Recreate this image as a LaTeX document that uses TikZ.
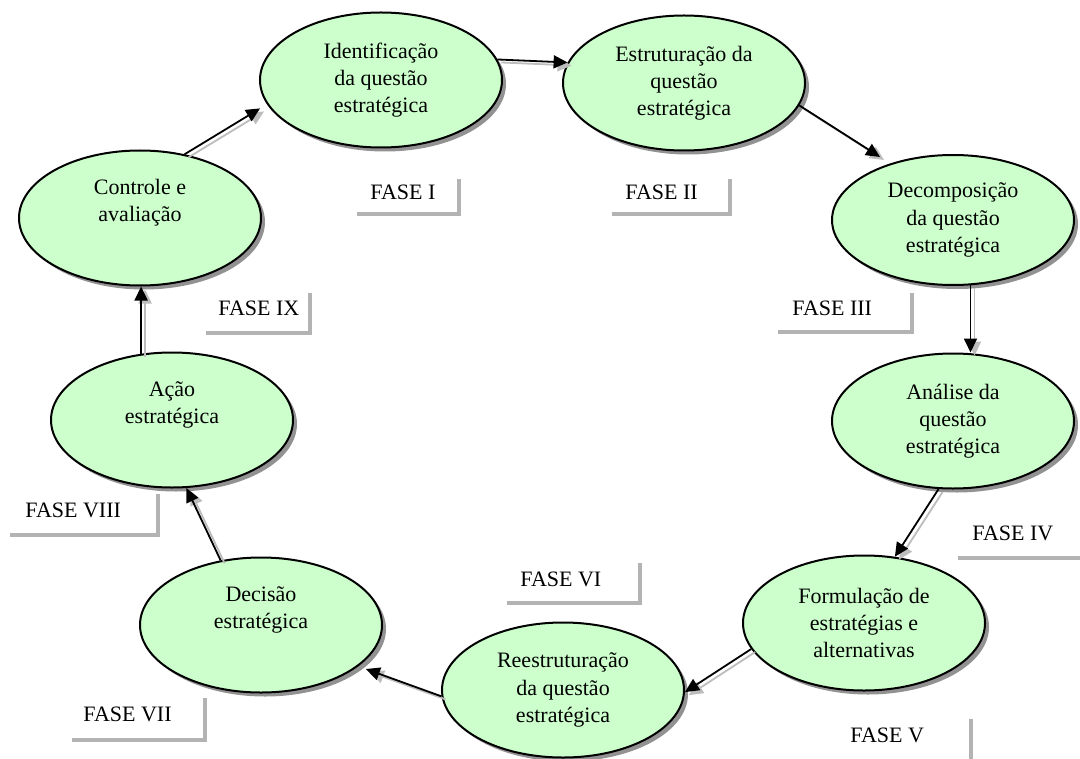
\documentclass[tikz,border=0pt]{standalone}
\usepackage{fontspec}
\setmainfont{Liberation Serif}
\usetikzlibrary{shapes.geometric,arrows.meta,shadows}
\definecolor{nodegreen}{HTML}{CCFFCC}
\definecolor{stripgray}{HTML}{B3B3B3}
\definecolor{linkgray}{HTML}{BDBDBD}

% phase label: name, text x, text y, box left, top, right, bottom, text
\newcommand\phasebox[8]{%
  \fill[stripgray] (#4+4,#5+4) rectangle (#6+4,#7+4);
  \fill[white] (#4,#5) rectangle (#6,#7);
  \node[phasetext] (#1) at (#2,#3) {#8};
}
% connector with its grey shadow
\newcommand\link[3][]{%
  \draw[linkshadow,#1] (#2) -- (#3);
  \draw[link,#1] (#2) -- (#3);
}

\begin{document}
\begin{tikzpicture}[x=0.5pt,y=-0.5pt,
  stage/.style={ellipse, draw=black, line width=1pt, fill=nodegreen,
    minimum width=121pt, minimum height=67.5pt, inner sep=0pt, align=center,
    font=\fontsize{11}{13.6}\selectfont,
    drop shadow={shadow xshift=2pt, shadow yshift=-2pt, fill=black!50, opacity=0.85}},
  link/.style={line width=0.9pt, -{Triangle[length=7pt,width=6.5pt]}},
  linkshadow/.style={link, draw=linkgray, fill=linkgray, transform canvas={xshift=2pt,yshift=-1.5pt}},
  phasetext/.style={anchor=west, inner sep=0pt, font=\fontsize{11}{13}\selectfont},
]
\useasboundingbox (0,0) rectangle (1080,759);
\fill[white] (0,0) rectangle (1080,759);
\clip (0,0) rectangle (1080,759);

% phase labels
\phasebox{f1}{370}{192}{353}{175}{457}{212}{FASE I}
\phasebox{f2}{625}{192}{608}{175}{728}{212}{FASE II}
\phasebox{f3}{792}{308}{774}{289}{910}{330}{FASE III}
\phasebox{f4}{972}{533}{954}{514}{1100}{556}{FASE IV}
\phasebox{f5}{850}{735}{833}{715}{969}{780}{FASE V}
\phasebox{f6}{520}{579}{503}{559}{638}{601}{FASE VI}
\phasebox{f7}{83}{714}{68}{694}{203}{738}{FASE VII}
\phasebox{f8}{25}{510}{6}{490}{156}{533}{FASE VIII}
\phasebox{f9}{218}{308}{202}{289}{308}{331}{FASE IX}

% stages of the cycle
\node[stage] (ident)  at (381,80)  {Identificação\\da questão\\estratégica};
\node[stage] (estrut) at (684,83)  {Estruturação da\\questão\\estratégica};
\node[stage, minimum height=65pt] (decomp) at (953,220) {Decomposição\\da questão\\estratégica};
\node[stage] (anal)   at (953,421) {Análise da\\questão\\estratégica};
\node[stage] (formul) at (864,623) {Formulação de\\estratégias e\\alternativas};
\node[stage] (reestr) at (563,690) {Reestruturação\\da questão\\estratégica};
\node[stage] (decis)  at (261,625) {Decisão\\estratégica\\\strut};
\node[stage] (acao)   at (172,420) {Ação\\estratégica\\\strut};
\node[stage] (contr)  at (140,218) {Controle e\\avaliação\\\strut};

% connectors
\link{ident.10}{estrut.170}
\link[shorten >=6pt]{estrut.-11}{decomp.138}
\link{decomp.-75}{decomp.-75 |- anal.north}
\link{anal.-102}{formul.65}
\link{formul.193}{reestr.-1}
\link[shorten >=4pt]{reestr.183}{decis.-23}
\link{decis.122}{acao.-78}
\link{acao.115}{acao.115 |- contr.south}
\link[shorten >=4pt]{contr.55}{ident.192}
\end{tikzpicture}
\end{document}
